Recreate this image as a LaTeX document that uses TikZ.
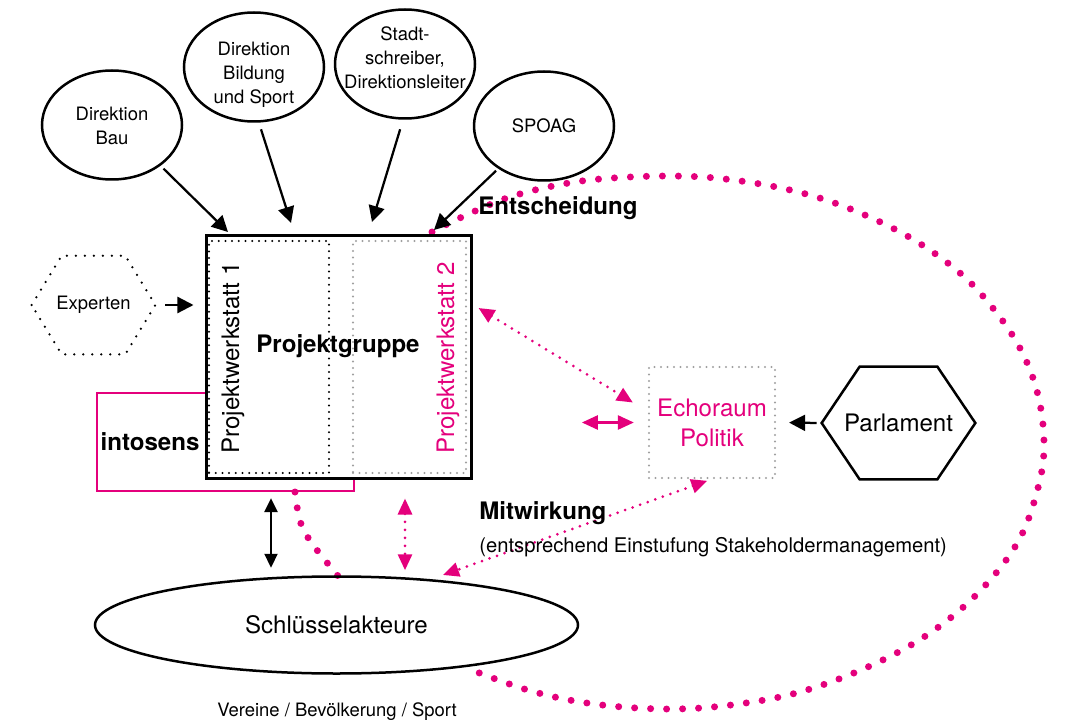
\documentclass[tikz,border=0pt]{standalone}
\usepackage{fontspec}
\setmainfont{TeX Gyre Heros}
\usetikzlibrary{positioning, calc, arrows.meta, shapes.geometric}
\definecolor{tmag}{HTML}{E4007C}

\begin{document}
\begin{tikzpicture}[x=0.2mm, y=-0.2mm,
    small/.style={font=\fontsize{10.5}{13.7}\selectfont, align=center},
    big/.style={font=\fontsize{13.7}{17}\selectfont, align=center},
    bigbold/.style={font=\fontsize{13.7}{17}\selectfont\bfseries},
    oval/.style={ellipse, draw, line width=0.5mm, minimum width=28mm, minimum height=21.8mm, inner sep=0pt},
    arr/.style={line width=0.45mm, -{Triangle[length=3.2mm, width=3.2mm]}},
    darr/.style={line width=0.45mm, {Triangle[length=2.8mm, width=2.6mm]}-{Triangle[length=2.8mm, width=2.6mm]}},
    blackdots/.style={draw, line width=0.45mm, dash pattern=on 0pt off 1.34mm, line cap=round},
    greydots/.style={draw=gray!75, line width=0.45mm, dash pattern=on 0pt off 1.3mm, line cap=round},
    mdots/.style={draw=tmag, line width=0.6mm, dash pattern=on 0pt off 1.6mm, line cap=round, {Triangle[length=3.2mm, width=2.8mm]}-{Triangle[length=3.2mm, width=2.8mm]}},
    bigdots/.style={draw=tmag, line width=1.4mm, dash pattern=on 0pt off 3.2mm, line cap=round}]
    \useasboundingbox (0,0) rectangle (1065,720);
    % Entscheidungs-Schleife
    \draw[bigdots] plot[smooth, tension=0.6] coordinates {(432,232) (462,217) (507,198) (553,186) (600,179) (667,176) (725,179) (790,190) (848,208) (909,237) (960,273) (996,312) (1022,352) (1038,395) (1044,442) (1039,484) (1019,540) (980,591) (930,633) (870,666) (800,692) (731,705) (666,709) (594,704) (531,691) (469,669)};
    \draw[bigdots] (295,492) .. controls (300,530) .. (338,576);
    % intosens
    \node[draw=tmag, line width=0.45mm, minimum width=51.4mm, minimum height=19.6mm, inner sep=0pt] (intos) at (225.5,442) {};
    \node[bigbold] (intoslabel) at (150,442) {intosens};
    % Projektgruppe
    \node[draw, fill=white, line width=0.6mm, minimum width=53mm, minimum height=48.4mm, inner sep=0pt] (pg) at (338.5,357) {};
    \node[blackdots, minimum width=24mm, minimum height=46.4mm] (pw1) at (269,357) {};
    \node[greydots, minimum width=22.6mm, minimum height=46.4mm] (pw2) at (409.5,357) {};
    \node[big, rotate=90] (pw1label) at (233,358) {Projektwerkstatt 1};
    \node[big, rotate=90, text=tmag] (pw2label) at (448,358) {Projektwerkstatt 2};
    \node[bigbold] (pglabel) at (338,346) {Projektgruppe};
    % Experten
    \node[small, minimum width=24.6mm, minimum height=19.6mm, inner sep=0pt] (exp) at (93.5,305) {Experten};
    \draw[line width=0.5mm, dash pattern=on 0pt off 1.8mm, line cap=round] (exp.west) -- ($(exp.north west)+(30,0)$) -- ($(exp.north east)+(-30,0)$) -- (exp.east) -- ($(exp.south east)+(-30,0)$) -- ($(exp.south west)+(30,0)$) -- cycle;
    \draw[arr, shorten <=2mm, shorten >=2.2mm] (exp.east) -- (exp.east -| pg.west);
    % Direktionen
    \node[oval] (bau) at (112,125) {};
    \node[oval] (bildung) at (254,67) {};
    \node[oval] (stadt) at (405,64) {};
    \node[oval] (spoag) at (544,126) {};
    \node[small] (bautext) at (112,126) {Direktion\\Bau};
    \node[small] (bildungtext) at (254,75) {Direktion\\Bildung\\und Sport};
    \node[small] (stadttext) at (405,58) {Stadt-\\schreiber,\\Direktionsleiter};
    \node[small] (spoagtext) at (544,126) {SPOAG};
    \coordinate (tbau) at (228,232);
    \coordinate (tbild) at (291,223);
    \coordinate (tstadt) at (372,222);
    \coordinate (tspoag) at (434,230);
    \draw[arr, shorten <=0.8mm] (bau.-40) -- (tbau);
    \draw[arr, shorten <=1.4mm] (bildung.-85) -- (tbild);
    \draw[arr, shorten <=2mm] (stadt.-92) -- (tstadt);
    \draw[arr, shorten <=0.6mm] (spoag.-137) -- (tspoag);
    \node[bigbold] (ent) at (558,208) {Entscheidung};
    % Echoraum und Parlament
    \node[greydots, big, text=tmag, minimum width=25.2mm, minimum height=22.2mm, inner sep=0pt] (echo) at (712,422.5) {Echoraum\\Politik};
    \node[big, minimum width=30.6mm, minimum height=22.4mm, inner sep=0pt] (parl) at (898.5,423) {Parlament};
    \draw[line width=0.5mm] (parl.west) -- ($(parl.north west)+(38,0)$) -- ($(parl.north east)+(-38,0)$) -- (parl.east) -- ($(parl.south east)+(-38,0)$) -- ($(parl.south west)+(38,0)$) -- cycle;
    \draw[arr, shorten <=1mm, shorten >=2.6mm] (parl.west) -- (echo.east);
    \draw[mdots] ($(pg.east)+(6,-49)$) -- ($(echo.west)+(-15,-20)$);
    \draw[tmag, line width=0.5mm, {Triangle[length=3.2mm, width=2.8mm]}-{Triangle[length=3.2mm, width=2.8mm]}] ($(echo.west)+(-66,0)$) -- ($(echo.west)+(-14,0)$);
    % Schluesselakteure
    \node[ellipse, draw, line width=0.5mm, minimum width=96.6mm, minimum height=19.4mm, inner sep=0pt, big] (sk) at (336.5,625) {Schlüsselakteure};
    \node[small] (skgroups) at (337,712) {Vereine / Bevölkerung / Sport};
    \coordinate (bv) at (271,0);
    \coordinate (mv) at (405,0);
    \coordinate (mw) at (443,575);
    \draw[darr, shorten <=1.2mm, shorten >=1.5mm] (intos.south -| bv) -- (sk.north -| bv);
    \draw[mdots, shorten <=3.8mm, shorten >=1mm] (pg.south -| mv) -- (sk.north -| mv);
    \draw[mdots, shorten <=1mm] (echo.south) -- (mw);
    \node[bigbold, anchor=west, inner sep=0pt] (mit) at (479,513) {Mitwirkung};
    \node[font=\fontsize{11.5}{14}\selectfont, anchor=west, inner sep=0pt] (mitnote) at (479,547) {(entsprechend Einstufung Stakeholdermanagement)};
\end{tikzpicture}
\end{document}
